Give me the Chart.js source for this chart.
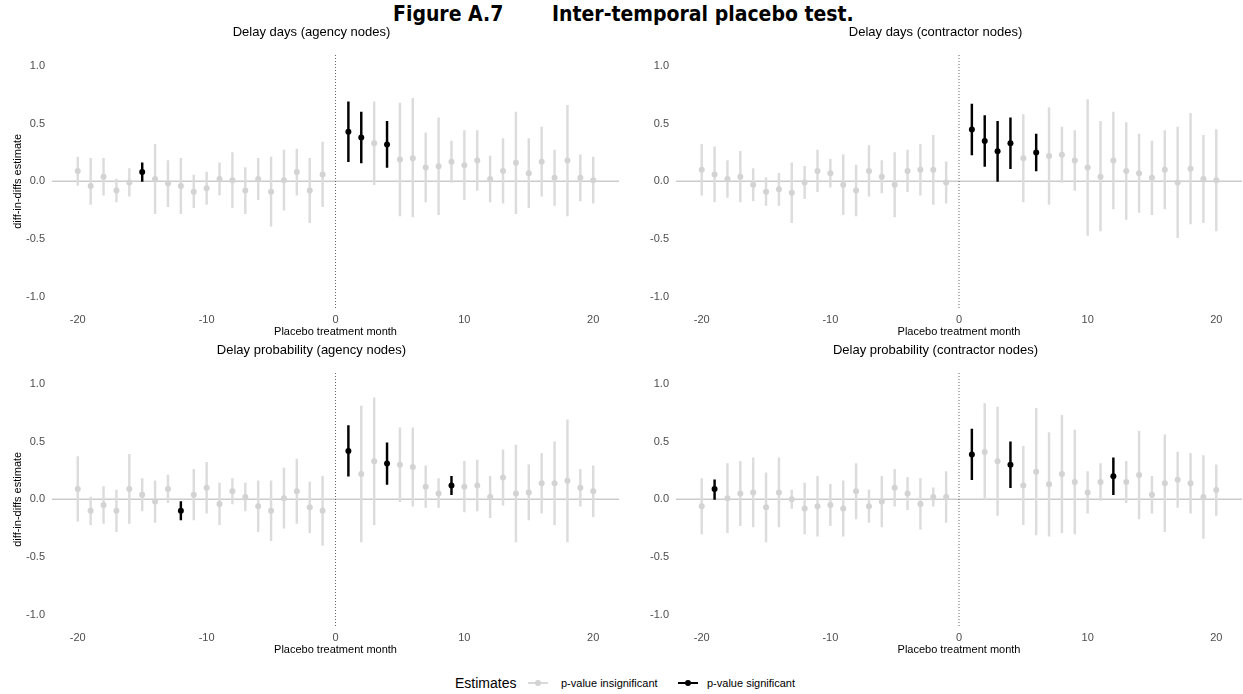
<!DOCTYPE html>
<html>
<head>
<meta charset="utf-8">
<script src="https://cdn.jsdelivr.net/npm/chart.js@4"></script>
<style>
  html, body { margin: 0; padding: 0; background: #fff; }
  body { width: 1243px; height: 694px; position: relative; overflow: hidden; font-family: "Liberation Sans", Arial, sans-serif; }
  .fig-title { position: absolute; top: 2px; font-family: "DejaVu Sans Condensed", "DejaVu Sans", sans-serif; font-weight: bold; font-size: 21px; color: #000; white-space: nowrap; }
  canvas { position: absolute; }
  .legend { position: absolute; top: 673px; left: 455px; height: 20px; white-space: nowrap; }
  .legend span { position: absolute; top: 0; line-height: 20px; }
  .key-line { position: absolute; top: 9px; width: 20px; height: 2px; }
  .key-dot { position: absolute; top: 7px; width: 6px; height: 6px; border-radius: 3px; }
</style>
</head>
<body>

<div class="fig-title" style="left:393px">Figure A.7</div>
<div class="fig-title" style="left:552px">Inter-temporal placebo test.</div>

<canvas id="chartA" width="623" height="317" style="left:0px; top:22px"></canvas>
<canvas id="chartB" width="621" height="317" style="left:625px; top:22px"></canvas>
<canvas id="chartC" width="623" height="317" style="left:0px; top:340px"></canvas>
<canvas id="chartD" width="621" height="317" style="left:625px; top:340px"></canvas>

<div class="legend">
  <span style="left:0px; font-size:14px; color:#000">Estimates</span>
  <div class="key-line" style="left:73px; background:#d9d9d9"></div>
  <div class="key-dot" style="left:80px; background:#d3d3d3"></div>
  <span style="left:106px; font-size:11px; color:#000">p-value insignificant</span>
  <div class="key-line" style="left:223px; background:#000"></div>
  <div class="key-dot" style="left:230px; background:#000"></div>
  <span style="left:252px; font-size:11px; color:#000">p-value significant</span>
</div>

<script>
// placebo treatment months
const months = [-20, -19, -18, -17, -16, -15, -14, -13, -12, -11, -10, -9, -8, -7, -6, -5, -4, -3, -2, -1,
                1, 2, 3, 4, 5, 6, 7, 8, 9, 10, 11, 12, 13, 14, 15, 16, 17, 18, 19, 20];

const xTicks = [-20, -10, 0, 10, 20];
const yTicks = [-1.0, -0.5, 0.0, 0.5, 1.0];

// Delay days (agency nodes)
const estAgencyDays = [0.09, -0.04, 0.04, -0.08, -0.01, 0.08, 0.02, -0.02, -0.04, -0.09, -0.06, 0.02, 0.01, -0.08, 0.02, -0.09, 0.01, 0.08, -0.08, 0.06,
                       0.43, 0.38, 0.33, 0.32, 0.19, 0.20, 0.12, 0.13, 0.17, 0.14, 0.18, 0.02, 0.09, 0.16, 0.07, 0.17, 0.03, 0.18, 0.03, 0.01];
const loAgencyDays = [-0.035, -0.20, -0.12, -0.18, -0.13, 0.00, -0.28, -0.22, -0.28, -0.23, -0.20, -0.12, -0.23, -0.28, -0.16, -0.39, -0.25, -0.12, -0.36, -0.22,
                      0.17, 0.16, -0.03, 0.12, -0.30, -0.31, -0.18, -0.29, -0.01, -0.16, -0.08, -0.18, -0.19, -0.28, -0.23, -0.13, -0.21, -0.30, -0.17, -0.19];
const hiAgencyDays = [0.21, 0.20, 0.20, 0.02, 0.11, 0.16, 0.32, 0.18, 0.20, 0.055, 0.08, 0.16, 0.25, 0.12, 0.20, 0.21, 0.27, 0.28, 0.20, 0.34,
                      0.69, 0.60, 0.69, 0.52, 0.68, 0.72, 0.42, 0.55, 0.35, 0.44, 0.44, 0.22, 0.37, 0.60, 0.37, 0.47, 0.27, 0.66, 0.23, 0.21];
const sigAgencyDays = [-15, 1, 2, 4];

// Delay days (contractor nodes)
const estContractorDays = [0.10, 0.06, 0.02, 0.04, -0.03, -0.09, -0.07, -0.10, -0.01, 0.09, 0.07, -0.03, -0.08, 0.09, 0.04, -0.03, 0.09, 0.10, 0.10, -0.01,
                           0.45, 0.35, 0.26, 0.33, 0.20, 0.25, 0.22, 0.23, 0.18, 0.12, 0.04, 0.18, 0.09, 0.07, 0.03, 0.10, -0.01, 0.11, 0.02, 0.01];
const loContractorDays = [-0.12, -0.18, -0.14, -0.18, -0.17, -0.21, -0.21, -0.36, -0.15, -0.09, -0.05, -0.29, -0.30, -0.13, -0.10, -0.31, -0.09, -0.12, -0.20, -0.19,
                          0.23, 0.13, 0.00, 0.11, -0.18, 0.09, -0.20, -0.01, -0.08, -0.47, -0.43, -0.24, -0.33, -0.27, -0.29, -0.24, -0.49, -0.37, -0.36, -0.43];
const hiContractorDays = [0.32, 0.30, 0.18, 0.26, 0.11, 0.03, 0.07, 0.16, 0.13, 0.27, 0.19, 0.23, 0.14, 0.31, 0.18, 0.25, 0.27, 0.32, 0.40, 0.17,
                          0.67, 0.57, 0.52, 0.55, 0.58, 0.41, 0.64, 0.47, 0.44, 0.71, 0.52, 0.60, 0.51, 0.41, 0.35, 0.44, 0.47, 0.59, 0.40, 0.45];
const sigContractorDays = [1, 2, 3, 4, 6];

// Delay probability (agency nodes)
const estAgencyProb = [0.09, -0.10, -0.05, -0.10, 0.09, 0.04, -0.02, 0.09, -0.10, 0.04, 0.10, -0.04, 0.07, 0.02, -0.06, -0.10, 0.01, 0.07, -0.07, -0.10,
                       0.42, 0.22, 0.33, 0.31, 0.30, 0.28, 0.11, 0.05, 0.12, 0.11, 0.12, 0.02, 0.19, 0.05, 0.06, 0.14, 0.14, 0.16, 0.10, 0.07];
const loAgencyProb = [-0.19, -0.22, -0.21, -0.28, -0.21, -0.10, -0.20, -0.03, -0.18, -0.18, -0.12, -0.22, -0.04, -0.10, -0.28, -0.36, -0.25, -0.21, -0.29, -0.40,
                      0.20, -0.37, -0.22, 0.13, -0.02, -0.06, -0.07, -0.07, 0.04, -0.11, -0.10, -0.16, -0.05, -0.37, -0.18, -0.12, -0.22, -0.37, -0.06, -0.15];
const hiAgencyProb = [0.37, 0.02, 0.11, 0.08, 0.39, 0.18, 0.16, 0.21, -0.02, 0.26, 0.32, 0.14, 0.18, 0.14, 0.16, 0.16, 0.27, 0.35, 0.15, 0.20,
                      0.64, 0.81, 0.88, 0.49, 0.62, 0.62, 0.29, 0.18, 0.20, 0.33, 0.34, 0.20, 0.43, 0.47, 0.30, 0.40, 0.50, 0.69, 0.26, 0.29];
const sigAgencyProb = [-12, 1, 4, 9];

// Delay probability (contractor nodes)
const estContractorProb = [-0.06, 0.09, 0.01, 0.05, 0.06, -0.07, 0.06, 0.00, -0.08, -0.06, -0.05, -0.08, 0.07, -0.06, -0.02, 0.10, 0.05, -0.04, 0.02, 0.02,
                           0.39, 0.41, 0.33, 0.30, 0.12, 0.24, 0.13, 0.22, 0.15, 0.06, 0.15, 0.20, 0.15, 0.21, 0.04, 0.14, 0.17, 0.14, 0.02, 0.08];
const loContractorProb = [-0.30, 0.00, -0.29, -0.23, -0.24, -0.37, -0.24, -0.08, -0.30, -0.32, -0.23, -0.32, -0.17, -0.20, -0.24, -0.06, -0.09, -0.26, -0.06, -0.20,
                          0.17, 0.00, -0.14, 0.10, -0.22, -0.31, -0.32, -0.29, -0.30, -0.12, -0.01, 0.04, -0.03, -0.17, -0.12, -0.28, -0.07, -0.12, -0.34, -0.14];
const hiContractorProb = [0.18, 0.17, 0.31, 0.33, 0.36, 0.23, 0.36, 0.08, 0.14, 0.20, 0.13, 0.16, 0.31, 0.08, 0.20, 0.26, 0.19, 0.18, 0.10, 0.24,
                          0.61, 0.83, 0.80, 0.50, 0.46, 0.79, 0.58, 0.73, 0.60, 0.24, 0.31, 0.36, 0.33, 0.59, 0.20, 0.56, 0.41, 0.40, 0.38, 0.30];
const sigContractorProb = [-19, 1, 4, 12];

const greyBar = '#dcdcdc';
const greyDot = '#d3d3d3';
const black = '#000000';

function makePanel(canvasId, title, est, lo, hi, sig, showYTitle) {
  const isSig = m => sig.includes(m);
  const config = {
    type: 'bar',
    data: {
      datasets: [
        {
          type: 'line',
          data: [{ x: -22, y: 0 }, { x: 22, y: 0 }],
          borderColor: '#cccccc',
          borderWidth: 1.4,
          pointRadius: 0,
          order: 4
        },
        {
          type: 'line',
          data: [{ x: 0, y: -1.1 }, { x: 0, y: 1.1 }],
          borderColor: '#666666',
          borderWidth: 1,
          borderDash: [1, 2],
          pointRadius: 0,
          order: 3
        },
        {
          type: 'bar',
          data: months.map((m, i) => ({ x: m, y: [lo[i], hi[i]] })),
          backgroundColor: months.map(m => isSig(m) ? black : greyBar),
          barThickness: 1.8,
          borderWidth: 0,
          order: 2
        },
        {
          type: 'scatter',
          data: months.map((m, i) => ({ x: m, y: est[i] })),
          pointBackgroundColor: months.map(m => isSig(m) ? black : greyDot),
          pointBorderWidth: 0,
          pointRadius: 3,
          order: 1
        }
      ]
    },
    options: {
      responsive: false,
      animation: false,
      devicePixelRatio: 1,
      layout: { padding: 0 },
      plugins: {
        legend: { display: false },
        tooltip: { enabled: false },
        title: {
          display: true,
          text: title,
          color: '#000',
          font: { family: 'Liberation Sans', size: 13, weight: 'normal' },
          padding: { top: 3, bottom: 14 }
        }
      },
      scales: {
        x: {
          type: 'linear',
          min: -22,
          max: 22,
          offset: false,
          grid: { display: false, drawTicks: false },
          border: { display: false },
          afterBuildTicks: s => { s.ticks = xTicks.map(v => ({ value: v })); },
          afterFit: s => { s.height = 31; },
          ticks: {
            color: '#4d4d4d',
            padding: 5,
            maxRotation: 0,
            font: { family: 'Liberation Sans', size: 11 },
            callback: v => String(v)
          },
          title: {
            display: true,
            text: 'Placebo treatment month',
            color: '#000',
            padding: 0,
            font: { family: 'Liberation Sans', size: 11 }
          }
        },
        y: {
          type: 'linear',
          min: -1.1,
          max: 1.1,
          grid: { display: false, drawTicks: false },
          border: { display: false },
          afterBuildTicks: s => { s.ticks = yTicks.map(v => ({ value: v })); },
          afterFit: s => { s.width = showYTitle ? 52 : 51; },
          ticks: {
            color: '#4d4d4d',
            padding: 7,
            font: { family: 'Liberation Sans', size: 11 },
            callback: v => v.toFixed(1)
          },
          title: {
            display: showYTitle,
            text: 'diff-in-diffs estimate',
            color: '#000',
            padding: { top: 11, bottom: 0 },
            font: { family: 'Liberation Sans', size: 11 }
          }
        }
      }
    }
  };
  return new Chart(document.getElementById(canvasId), config);
}

const chartA = makePanel('chartA', 'Delay days (agency nodes)', estAgencyDays, loAgencyDays, hiAgencyDays, sigAgencyDays, true);
const chartB = makePanel('chartB', 'Delay days (contractor nodes)', estContractorDays, loContractorDays, hiContractorDays, sigContractorDays, false);
const chartC = makePanel('chartC', 'Delay probability (agency nodes)', estAgencyProb, loAgencyProb, hiAgencyProb, sigAgencyProb, true);
const chartD = makePanel('chartD', 'Delay probability (contractor nodes)', estContractorProb, loContractorProb, hiContractorProb, sigContractorProb, false);
</script>
</body>
</html>
